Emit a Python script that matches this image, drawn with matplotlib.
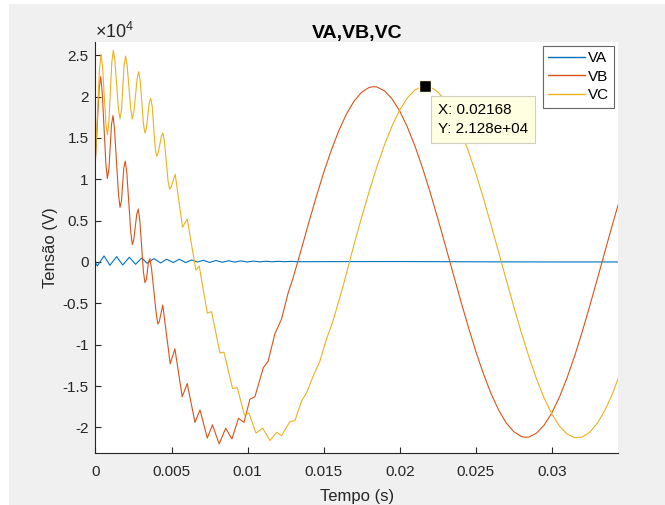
import matplotlib.pyplot as plt
from matplotlib.patches import Rectangle

plt.rcParams['font.family'] = ['Liberation Sans', 'DejaVu Sans']
plt.rcParams['mathtext.fontset'] = 'custom'
plt.rcParams['mathtext.rm'] = 'Liberation Sans'
plt.rcParams['axes.unicode_minus'] = False

# --- data (time in s, voltage in V) ---
t_va = [0, 0.00012, 0.00056, 0.00095, 0.00139, 0.00179, 0.00222, 0.00264,
        0.00304, 0.00340, 0.00384, 0.00428, 0.00468, 0.00511, 0.00551, 0.00593,
        0.00632, 0.00669, 0.00710, 0.00751, 0.00792, 0.00833, 0.00874, 0.00915,
        0.00956, 0.00997, 0.01038, 0.01079, 0.01120, 0.01161, 0.01202, 0.01243,
        0.01284, 0.01325, 0.0150, 0.0200, 0.0250, 0.0300, 0.0344]
va = [-70, -480, 730, -400, 650, -360, 570, -280,
      480, -160, 410, -120, 330, -70, 330, -70,
      240, 0, 200, -60, 180, -40, 150, -20,
      130, 0, 110, 10, 90, 20, 80, 30,
      70, 30, 40, 50, 20, 0, 0]

t_vb = [0, 0.00024, 0.00034, 0.00044, 0.00068, 0.00078, 0.00088, 0.00105,
        0.00115, 0.00125, 0.00151, 0.00161, 0.00171, 0.00186, 0.00196, 0.00206,
        0.00232, 0.00242, 0.00252, 0.00271, 0.00281, 0.00291, 0.00315, 0.00325,
        0.00335, 0.00348, 0.00358, 0.00368, 0.00400, 0.00410, 0.00420,
        0.00442, 0.00491, 0.00522, 0.00570, 0.00603,
        0.00654, 0.00687, 0.00735, 0.00769, 0.00813, 0.00856, 0.00897, 0.00940,
        0.00976, 0.01015, 0.01048, 0.01103, 0.01135, 0.01179, 0.01223, 0.01267,
        0.01296, 0.0135, 0.0140, 0.0145, 0.0150, 0.0155, 0.0160, 0.0165,
        0.0170, 0.0175, 0.0180, 0.0183, 0.0185, 0.0190, 0.0195, 0.0200,
        0.0205, 0.0210, 0.0215, 0.0220, 0.0225, 0.0230, 0.0235, 0.0240,
        0.0245, 0.0250, 0.0255, 0.0260, 0.0265, 0.0270, 0.0275, 0.0280,
        0.0283, 0.0285, 0.0290, 0.0295, 0.0300, 0.0305, 0.0310, 0.0315,
        0.0320, 0.0325, 0.0330, 0.0335, 0.0340, 0.0344]
vb = [12400, 20940, 22400, 20600, 11900, 10100, 11210, 16590,
      17700, 16080, 8220, 6600, 7420, 11380, 12200, 10730,
      3570, 2100, 2730, 5770, 6400, 5100, -1200, -2500,
      -2080, -20, 400, -750, -6350, -7500, -7160,
      -5200, -12300, -10500, -16300, -14700,
      -19400, -17900, -21300, -19700, -22000, -20100, -21400, -18900,
      -19400, -16600, -16300, -12800, -12000, -8700, -6900, -3700,
      -2100, 1330, 4620, 7800, 10800, 13510, 15900, 17900,
      19460, 20530, 21110, 21200, 21160, 20690, 19710, 18250,
      16330, 14020, 11360, 8420, 5270, 2000, -1330, -4620,
      -7800, -10800, -13510, -15900, -17900, -19460, -20530, -21110,
      -21200, -21160, -20690, -19710, -18250, -16330, -14020, -11360,
      -8420, -5270, -2000, 1330, 4620, 7170]

t_vc = [0, 0.00026, 0.00036, 0.00046, 0.00068, 0.00078, 0.00088, 0.00107,
        0.00117, 0.00127, 0.00151, 0.00161, 0.00171, 0.00188, 0.00198, 0.00208,
        0.00232, 0.00242, 0.00252, 0.00274, 0.00284, 0.00294, 0.00315, 0.00325,
        0.00335, 0.00353, 0.00363, 0.00373, 0.00392, 0.00402, 0.00412, 0.00433,
        0.00443, 0.00453, 0.00477, 0.00487, 0.00497, 0.00524, 0.00572, 0.00603,
        0.00660, 0.00682, 0.00735, 0.00763, 0.00818, 0.00844, 0.00901, 0.00932,
        0.00979, 0.01009, 0.01055, 0.01099, 0.01147, 0.01191, 0.01223, 0.01278,
        0.01311, 0.01355, 0.01388, 0.01431, 0.01475, 0.01519, 0.01562, 0.01628,
        0.0170, 0.0175, 0.0180, 0.0185, 0.0190, 0.0195, 0.0200, 0.0205,
        0.0210, 0.0215, 0.02168, 0.0220, 0.0225, 0.0230, 0.0235, 0.0240,
        0.0245, 0.0250, 0.0255, 0.0260, 0.0265, 0.0270, 0.0275, 0.0280,
        0.0285, 0.0290, 0.0295, 0.0300, 0.0305, 0.0310, 0.0315, 0.0320,
        0.0325, 0.0330, 0.0335, 0.0340, 0.0344]
vc = [12800, 23300, 25100, 23680, 16820, 15400, 16890, 24110,
      25600, 24390, 18510, 17300, 18410, 23790, 24900, 23790,
      18410, 17300, 18130, 22170, 23000, 21920, 16680, 15600,
      16210, 19190, 19800, 18780, 13820, 12800, 13210, 15190,
      15600, 14610, 9790, 8800, 9060, 10600, 4200, 5200,
      -1000, -500, -6200, -6000, -11000, -10900, -15300, -15200,
      -18500, -18300, -20700, -20100, -21600, -20600, -21000, -19300,
      -19200, -16800, -15800, -13800, -12000, -9300, -7100, -2900,
      2130, 5430, 8580, 11520, 14180, 16480, 18380, 19840,
      20800, 21250, 21280, 21170, 20580, 19480, 17900, 15870,
      13460, 10730, 7710, 4510, 1200, -2140, -5420, -8570,
      -11500, -14180, -16480, -18380, -19840, -20800, -21250, -21170,
      -20580, -19480, -17900, -15870, -13900]

x_ticks = [0, 0.005, 0.01, 0.015, 0.02, 0.025, 0.03]
x_tick_labels = ['0', '0.005', '0.01', '0.015', '0.02', '0.025', '0.03']
y_ticks = [-20000, -15000, -10000, -5000, 0, 5000, 10000, 15000, 20000, 25000]
y_tick_labels = ['-2', '-1.5', '-1', '-0.5', '0', '0.5', '1', '1.5', '2', '2.5']

tip_x = 0.02168
tip_y = 21280

# --- figure ---
fig = plt.figure(figsize=(6.65, 5.05), dpi=100, facecolor='#f0f0f0')
# thin white strips on the left and top edge of the screenshot
fig.add_artist(Rectangle((0, 0), 9 / 665, 1, transform=fig.transFigure,
                         facecolor='white', edgecolor='none', zorder=-5))
fig.add_artist(Rectangle((0, (505 - 4) / 505), 1, 1, transform=fig.transFigure,
                         facecolor='white', edgecolor='none', zorder=-5))

ax = fig.add_axes([95.5 / 665, 52 / 505, 522.5 / 665, 411 / 505])
ax.set_facecolor('white')

ax.plot(t_va, va, color='#0072BD', linewidth=0.8, label='VA')
ax.plot(t_vb, vb, color='#D95319', linewidth=0.8, label='VB')
ax.plot(t_vc, vc, color='#EDB120', linewidth=0.8, label='VC')

ax.set_xlim(0, 0.03435)
ax.set_ylim(-23100, 26600)
ax.set_xticks(x_ticks, x_tick_labels)
ax.set_yticks(y_ticks, y_tick_labels)
ax.tick_params(direction='in', length=4, width=0.8, colors='#262626', labelsize=11)
ax.tick_params(axis='x', pad=9)
ax.tick_params(axis='y', pad=5)
for side in ['top', 'right']:
    ax.spines[side].set_visible(False)
for side in ['left', 'bottom']:
    ax.spines[side].set_color('#262626')
    ax.spines[side].set_linewidth(0.8)

ax.set_xlabel('Tempo (s)', fontsize=12, color='#262626', labelpad=7)
ax.set_ylabel('Tensão (V)', fontsize=12, color='#262626', labelpad=3)
ax.set_title('VA,VB,VC', fontsize=14, fontweight='bold', color='black', pad=3)
ax.text(0.0, 1.0, r'$\times10^{4}$', transform=ax.transAxes, fontsize=13,
        color='#262626', ha='left', va='bottom')

leg = ax.legend(loc='upper right', fontsize=11, frameon=True, fancybox=False,
                handlelength=2.4, borderaxespad=0.25, labelspacing=0.3,
                borderpad=0.35, handletextpad=0.2)
leg.get_frame().set_edgecolor('#404040')
leg.get_frame().set_linewidth(0.8)
for line in leg.get_lines():
    line.set_linewidth(1.0)

# data tip
ax.plot([tip_x], [tip_y], marker='s', markersize=8, markerfacecolor='black',
        markeredgecolor='#fffbe0', linestyle='none', zorder=5)
ax.annotate('X: 0.02168\nY: 2.128e+04', xy=(tip_x, tip_y), xytext=(13, -17),
            textcoords='offset pixels', ha='left', va='top', fontsize=11,
            color='black', linespacing=1.5,
            bbox=dict(boxstyle='square,pad=0.45', facecolor='#ffffe1',
                      edgecolor='#d0d0c0', linewidth=0.8), zorder=6)

fig.savefig('out.png', dpi=100, facecolor=fig.get_facecolor())
